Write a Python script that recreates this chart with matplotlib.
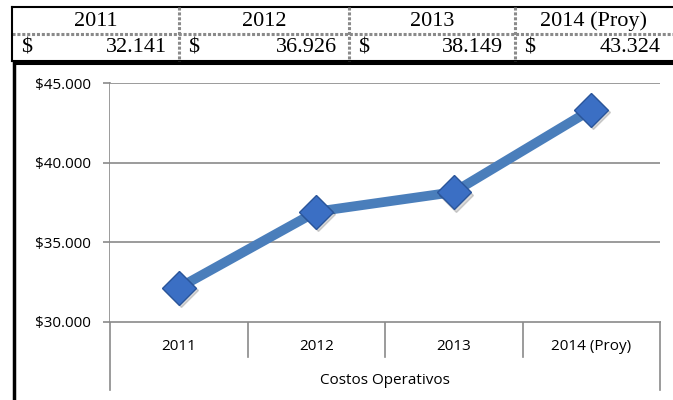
import matplotlib
matplotlib.use("Agg")
import matplotlib.pyplot as plt
from matplotlib.lines import Line2D

# data
years = ["2011", "2012", "2013", "2014 (Proy)"]
costs = [32141, 36926, 38149, 43324]
y_ticks = [30000, 35000, 40000, 45000]
axis_title = "Costos Operativos"

W, H = 673, 400
fig = plt.figure(figsize=(W / 100, H / 100), dpi=100)

# background layer in pixel coordinates for the table and the chart frame
bg = fig.add_axes([0, 0, 1, 1])
bg.set_xlim(0, W)
bg.set_ylim(H, 0)
bg.axis("off")

col_edges = [12, 179, 349, 515, 673]
grid_kw = dict(color="#8a8a8a", lw=2.2, ls=(0, (1, 0.6)))
bg.add_line(Line2D([12, W], [7, 7], color="black", lw=1.5))
bg.add_line(Line2D([12, W], [34, 34], **grid_kw))
bg.add_line(Line2D([12, W], [61, 61], color="black", lw=1.5))
bg.add_line(Line2D([12, 12], [7, 61], color="black", lw=1.5))
for x in col_edges[1:-1]:
    bg.add_line(Line2D([x, x], [7, 61], **grid_kw))

serif = dict(family=["Liberation Serif", "DejaVu Serif"], fontsize=16)
for i, (yr, v) in enumerate(zip(years, costs)):
    x0, x1 = col_edges[i], col_edges[i + 1]
    bg.text((x0 + x1) / 2, 21, yr, ha="center", va="center", **serif)
    bg.text(x0 + 9, 48, "$", ha="left", va="center", **serif)
    bg.text(x1 - 12, 48, f"{v:,}".replace(",", "."), ha="right", va="center", **serif)

# chart frame
bg.add_line(Line2D([14, W], [63, 63], color="black", lw=2.2))
bg.add_line(Line2D([14, 14], [63, H], color="black", lw=2.5))

sans = dict(family=["Open Sans", "DejaVu Sans"], fontsize=11)

# plot area
left, right, top, bottom = 110, 660, 83, 322
ax = fig.add_axes([left / W, 1 - bottom / H, (right - left) / W, (bottom - top) / H])
ax.set_xlim(-0.5, len(years) - 0.5)
ax.set_ylim(y_ticks[0], y_ticks[-1])
for s in ax.spines.values():
    s.set_visible(False)
ax.set_yticks(y_ticks)
ax.set_yticklabels([f"${v:,}".replace(",", ".") for v in y_ticks], **sans)
ax.tick_params(axis="y", length=5, color="#8a8a8a", width=1.2, pad=9)
ax.set_xticks([])
ax.yaxis.grid(True, color="#8a8a8a", lw=1.2)
ax.set_axisbelow(True)

xs = list(range(len(years)))
ax.plot(xs, costs, color="#4a7ebb", lw=7, solid_capstyle="butt", zorder=3)
# soft shadow under markers
ax.plot([x + 0.015 for x in xs], [c - 150 for c in costs], ls="none", marker="D",
        ms=17, color="#000000", alpha=0.15, zorder=3.5)
ax.plot(xs, costs, ls="none", marker="D", ms=17, markerfacecolor="#3b6fc4",
        markeredgecolor="#2a559a", markeredgewidth=1.0, zorder=4)

# category axis drawn in pixel space
bg.add_line(Line2D([left, left], [top, 390], color="#8a8a8a", lw=1.2))
bg.add_line(Line2D([right, right], [bottom, 390], color="#8a8a8a", lw=1.2))
bg.add_line(Line2D([left, right], [bottom, bottom], color="#8a8a8a", lw=1.2))
step = (right - left) / len(years)
for i, yr in enumerate(years):
    if i > 0:
        xb = left + i * step
        bg.add_line(Line2D([xb, xb], [bottom, 357], color="#8a8a8a", lw=1.2))
    bg.text(left + (i + 0.5) * step, 347, yr, ha="center", va="center", **sans)
bg.text((left + right) / 2, 381, axis_title, ha="center", va="center", **sans)

fig.savefig("out.png", dpi=100)
